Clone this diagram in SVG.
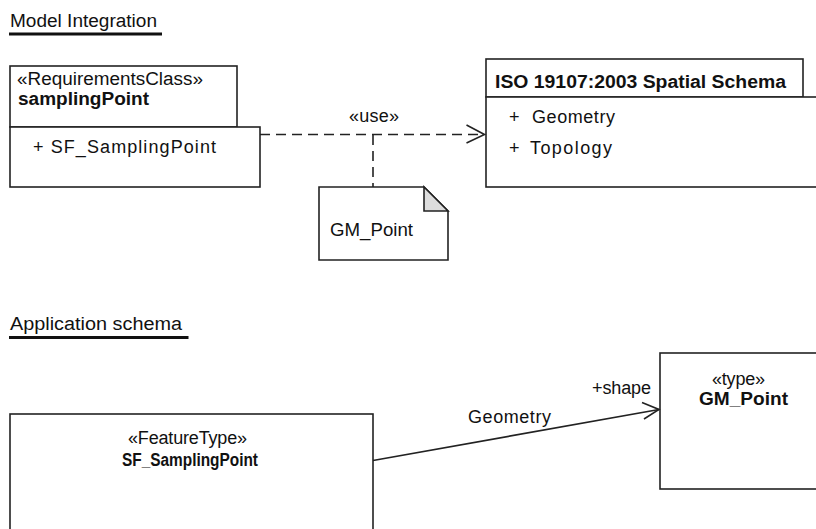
<svg xmlns="http://www.w3.org/2000/svg" width="816" height="529" viewBox="0 0 816 529">
<style>
.box{fill:#fff;stroke:#222;stroke-width:1.6}
.t{font-family:"Liberation Sans",Arial,sans-serif;font-size:18px;fill:#111}
.b{font-family:"Liberation Sans",Arial,sans-serif;font-size:18px;font-weight:bold;fill:#111}
.ln{fill:none;stroke:#222;stroke-width:1.6}
.dash{fill:none;stroke:#222;stroke-width:1.6;stroke-dasharray:10,6}
</style>
<rect width="816" height="529" fill="#fff"/>
<g id="title-model">
<text class="t" x="10" y="26.5" textLength="147" lengthAdjust="spacingAndGlyphs">Model Integration</text>
<line x1="9" y1="34" x2="162" y2="34" stroke="#111" stroke-width="3"/>
</g>
<g id="title-app">
<text class="t" x="10" y="330" textLength="172" lengthAdjust="spacingAndGlyphs">Application schema</text>
<line x1="9" y1="337.5" x2="188.5" y2="337.5" stroke="#111" stroke-width="3"/>
</g>
<g id="pkg-samplingPoint">
<rect class="box" x="10" y="66" width="227" height="61"/>
<rect class="box" x="10" y="127" width="250" height="60"/>
<text class="t" x="17" y="85" textLength="186" lengthAdjust="spacingAndGlyphs">«RequirementsClass»</text>
<text class="b" x="18" y="105" textLength="131" lengthAdjust="spacingAndGlyphs">samplingPoint</text>
<text class="t" x="33" y="153" textLength="183" lengthAdjust="spacing">+ SF_SamplingPoint</text>
</g>
<g id="pkg-iso">
<rect class="box" x="486" y="59" width="317" height="38"/>
<rect class="box" x="486" y="97" width="340" height="90"/>
<text class="b" x="495" y="88" textLength="291" lengthAdjust="spacingAndGlyphs">ISO 19107:2003 Spatial Schema</text>
<text class="t" x="509" y="123">+</text>
<text class="t" x="532" y="123" textLength="83" lengthAdjust="spacing">Geometry</text>
<text class="t" x="509" y="153.5">+</text>
<text class="t" x="530" y="153.5" textLength="82" lengthAdjust="spacing">Topology</text>
</g>
<g id="note-gmpoint">
<path class="box" d="M319,187 H424 L448,211 V260 H319 Z"/>
<path d="M424,187 V211 H448 Z" fill="#ddd" stroke="#222" stroke-width="1.6" stroke-linejoin="miter"/>
<text class="t" x="330" y="236" textLength="83" lengthAdjust="spacingAndGlyphs">GM_Point</text>
</g>
<g id="cls-sf">
<rect class="box" x="10" y="414" width="363" height="130"/>
<text class="t" x="128" y="444" textLength="119" lengthAdjust="spacing">«FeatureType»</text>
<text class="b" x="122" y="466" textLength="136" lengthAdjust="spacingAndGlyphs">SF_SamplingPoint</text>
</g>
<g id="cls-gmpoint">
<rect class="box" x="660" y="353" width="170" height="136"/>
<text class="t" x="712" y="385" textLength="53" lengthAdjust="spacing">«type»</text>
<text class="b" x="699" y="405" textLength="89" lengthAdjust="spacingAndGlyphs">GM_Point</text>
</g>
<g id="connectors">
<line class="dash" x1="260" y1="134.5" x2="484" y2="134.5"/>
<polyline class="ln" points="466.5,125 484.5,134.5 466.5,143"/>
<text class="t" x="349" y="121.5" textLength="50" lengthAdjust="spacing">«use»</text>
<line class="dash" x1="373" y1="135" x2="373" y2="187"/>
<line class="ln" x1="373" y1="460.5" x2="659" y2="409.5"/>
<polyline class="ln" points="642,402.5 659,409.5 644,419"/>
<text class="t" x="592" y="393.5" textLength="59" lengthAdjust="spacing">+shape</text>
<text class="t" x="468" y="422.5" textLength="83" lengthAdjust="spacing">Geometry</text>
</g>
</svg>
